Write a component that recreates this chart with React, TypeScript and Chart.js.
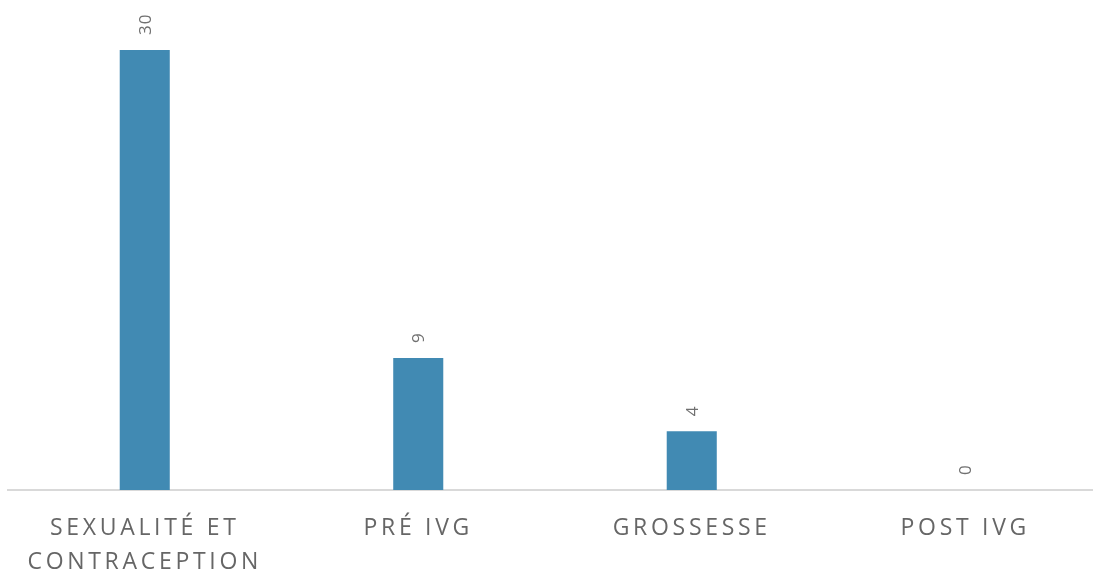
import React, { useEffect, useRef } from "react";
import { Chart, registerables } from "chart.js";

Chart.register(...registerables);

const categories: (string | string[])[] = [
  ["SEXUALITÉ ET", "CONTRACEPTION"],
  "PRÉ IVG",
  "GROSSESSE",
  "POST IVG",
];
const counts: number[] = [30, 9, 4, 0];

const BAR_COLOR = "#418AB3";
const TEXT_COLOR = "#666666";
const FONT = "'Open Sans', 'Liberation Sans', sans-serif";

// Spaced-out capitals for the category axis only
const letterSpacingPlugin = {
  id: "axisLetterSpacing",
  beforeDraw(chart: any) {
    chart.ctx.letterSpacing = "3.7px";
  },
  beforeDatasetsDraw(chart: any) {
    chart.ctx.letterSpacing = "0px";
  },
};

// Vertical value labels above each bar
const valueLabelPlugin = {
  id: "verticalValueLabels",
  afterDatasetsDraw(chart: any) {
    const ctx = chart.ctx;
    const meta = chart.getDatasetMeta(0);
    ctx.save();
    ctx.letterSpacing = "1px";
    ctx.fillStyle = "#707070";
    ctx.font = `17px ${FONT}`;
    ctx.textAlign = "left";
    ctx.textBaseline = "middle";
    meta.data.forEach((bar: any, i: number) => {
      ctx.save();
      ctx.translate(bar.x + 1, bar.y - 15);
      ctx.rotate(-Math.PI / 2);
      ctx.fillText(String(counts[i]), 0, 0);
      ctx.restore();
    });
    ctx.restore();
  },
};

export default function App() {
  const canvasRef = useRef<HTMLCanvasElement | null>(null);

  useEffect(() => {
    document.body.style.margin = "0";
    const canvas = canvasRef.current;
    if (!canvas) return;
    const chart = new Chart(canvas, {
      type: "bar",
      data: {
        labels: categories,
        datasets: [
          {
            data: counts,
            backgroundColor: BAR_COLOR,
            barPercentage: 1,
            categoryPercentage: 0.183,
          },
        ],
      },
      options: {
        animation: false,
        responsive: false,
        maintainAspectRatio: false,
        layout: { padding: { left: 8, right: 0, top: 0, bottom: 0 } },
        plugins: {
          legend: { display: false },
          tooltip: { enabled: false },
        },
        scales: {
          x: {
            grid: { display: false, drawTicks: false },
            border: { display: true, color: "#D9D9D9", width: 2 },
            ticks: {
              color: TEXT_COLOR,
              font: { family: FONT, size: 23, lineHeight: 1.45 },
              padding: 22,
              maxRotation: 0,
              autoSkip: false,
            },
            afterFit(scale: any) {
              scale.height = 81;
            },
          },
          y: {
            display: false,
            min: 0,
            max: 33.4,
          },
        },
      },
      plugins: [letterSpacingPlugin, valueLabelPlugin],
    });
    return () => chart.destroy();
  }, []);

  // The plot runs slightly past the right edge of the visible frame
  return (
    <div style={{ width: 1093, height: 571, overflow: "hidden" }}>
      <canvas ref={canvasRef} width={1102} height={571} style={{ display: "block" }} />
    </div>
  );
}
